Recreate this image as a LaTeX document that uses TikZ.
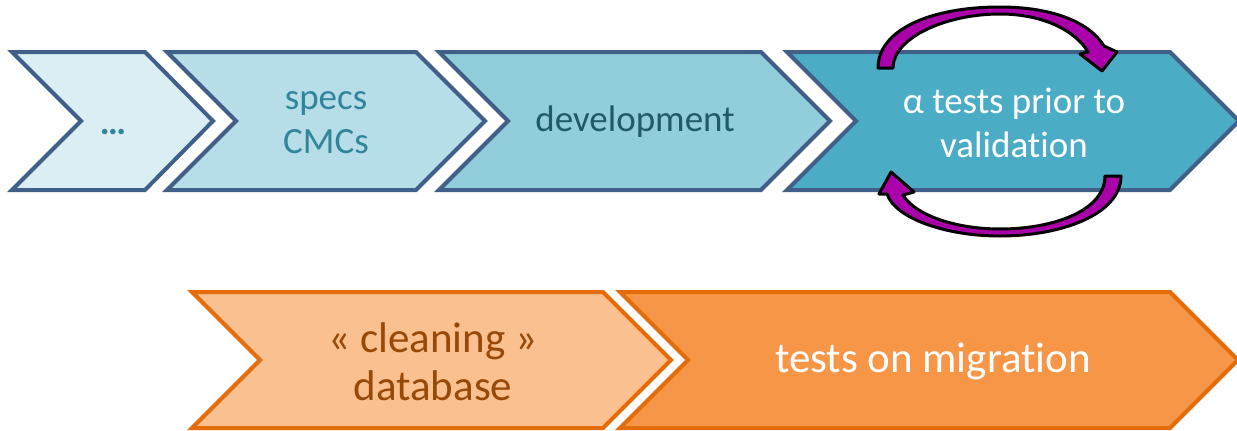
\documentclass[tikz,border=0pt]{standalone}
\usepackage{fontspec}
\setmainfont{Carlito}[Ligatures=NoCommon]
\definecolor{stepblue}{RGB}{64,96,138}
\definecolor{stepfillA}{RGB}{219,238,244}
\definecolor{stepfillB}{RGB}{183,222,232}
\definecolor{stepfillC}{RGB}{146,205,220}
\definecolor{stepfillD}{RGB}{75,172,198}
\definecolor{labelteal}{RGB}{49,133,155}
\definecolor{labeldark}{RGB}{33,89,104}
\definecolor{steporange}{RGB}{228,108,10}
\definecolor{stepfillE}{RGB}{250,192,144}
\definecolor{stepfillF}{RGB}{247,150,70}
\definecolor{labelbrown}{RGB}{152,72,7}
\definecolor{loopmagenta}{RGB}{170,0,170}
\tikzset{
  bluestep/.style={draw=stepblue, line width=4pt, line join=miter},
  orangestep/.style={draw=steporange, line width=4pt, line join=miter},
  toplabel/.style={align=center, inner sep=0pt, font=\fontsize{37}{44}\selectfont},
  bottomlabel/.style={align=center, inner sep=0pt, font=\fontsize{43}{48}\selectfont},
  loopyarrow/.style={fill=loopmagenta, draw=black, line width=3pt, line join=round}
}
\begin{document}
\begin{tikzpicture}
\useasboundingbox (0pt,0pt) rectangle (1237pt,-431pt);
% upper row
\draw[bluestep, fill=stepfillA] (12pt,-52pt) -- (145pt,-52pt) -- (213pt,-121pt) -- (145pt,-190pt) -- (12pt,-190pt) -- (81pt,-121pt) -- cycle;
\draw[bluestep, fill=stepfillB] (167pt,-52pt) -- (416pt,-52pt) -- (485pt,-121pt) -- (416pt,-190pt) -- (167pt,-190pt) -- (236pt,-121pt) -- cycle;
\draw[bluestep, fill=stepfillC] (439pt,-52pt) -- (761pt,-52pt) -- (830pt,-121pt) -- (761pt,-190pt) -- (439pt,-190pt) -- (508pt,-121pt) -- cycle;
\draw[bluestep, fill=stepfillD] (787pt,-52pt) -- (1170pt,-52pt) -- (1239pt,-121pt) -- (1170pt,-190pt) -- (787pt,-190pt) -- (856pt,-121pt) -- cycle;
\node[toplabel, text=labelteal] (dots) at (113pt,-126pt) {\strut\bfseries …};
\node[toplabel, text=labelteal] (specs) at (326pt,-123pt) {specs\\CMCs};
\node[toplabel, text=labeldark] (development) at (635pt,-122pt) {development};
\node[toplabel, text=white] (alphatests) at (1014pt,-123pt) {α tests prior to\\validation};
% loop arrows
\draw[loopyarrow] (878pt,-68pt) -- (893pt,-68pt)
  .. controls (893pt,-38pt) and (945pt,-14pt) .. (1000pt,-14pt)
  .. controls (1042pt,-14pt) and (1075pt,-30pt) .. (1088pt,-52pt)
  -- (1080pt,-54pt) -- (1102pt,-71pt) -- (1117pt,-52pt) -- (1104pt,-46pt)
  .. controls (1088pt,-20pt) and (1048pt,-7pt) .. (1000pt,-7pt)
  .. controls (930pt,-7pt) and (878pt,-30pt) .. (878pt,-68pt) -- cycle;
\draw[loopyarrow] (1105pt,-176pt) -- (1121pt,-176pt)
  .. controls (1121pt,-214pt) and (1062pt,-236pt) .. (1000pt,-236pt)
  .. controls (945pt,-236pt) and (895pt,-218pt) .. (887pt,-194pt)
  -- (879pt,-194pt) -- (891pt,-172pt) -- (914pt,-192pt) -- (903pt,-195pt)
  .. controls (915pt,-215pt) and (955pt,-229pt) .. (1000pt,-229pt)
  .. controls (1055pt,-229pt) and (1105pt,-210pt) .. (1105pt,-176pt) -- cycle;
% lower row
\draw[orangestep, fill=stepfillE] (192pt,-292pt) -- (603pt,-292pt) -- (671pt,-360pt) -- (603pt,-428pt) -- (192pt,-428pt) -- (260pt,-360pt) -- cycle;
\draw[orangestep, fill=stepfillF] (620pt,-292pt) -- (1170pt,-292pt) -- (1238pt,-360pt) -- (1170pt,-428pt) -- (620pt,-428pt) -- (688pt,-360pt) -- cycle;
\node[bottomlabel, text=labelbrown] (cleaning) at (433pt,-362pt) {« cleaning »\\database};
\node[bottomlabel, text=white] (migration) at (933pt,-361pt) {tests on migration};
\end{tikzpicture}
\end{document}
